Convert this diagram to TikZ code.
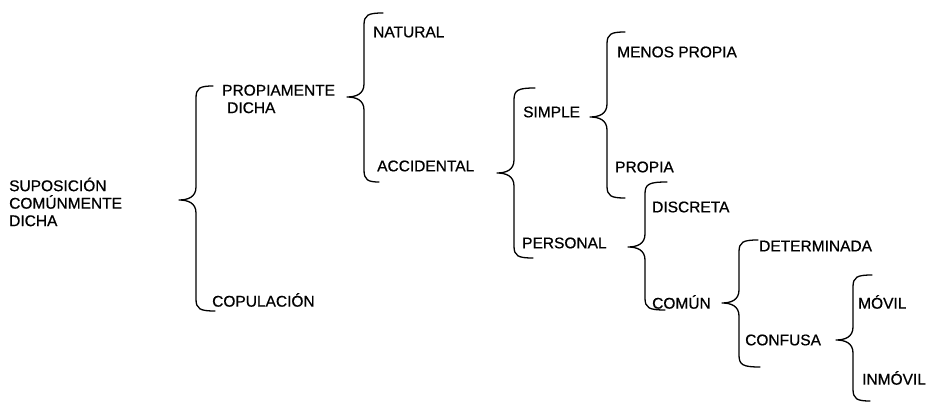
\documentclass[tikz,border=0pt]{standalone}
\usepackage{fontspec}
\setmainfont{Liberation Sans}
\newfontfamily\lblfont{Liberation Sans}[FakeBold=0.7]
\usetikzlibrary{calc}

\tikzset{
  lbl/.style={anchor=west, inner sep=0pt, align=left,
    font=\lblfont\fontsize{15.5}{17.5}\selectfont},
  % half of a curly brace, drawn from its middle tip to one curled end
  brace/.style={line width=1.3pt, line cap=round, line join=round,
    to path={let \p1=(\tikztostart), \p2=(\tikztotarget),
      \n1={sign(\y2-\y1)} in
      (\p1) .. controls (\x1+9pt,\y1) and (\x1+17pt,\y1+3pt*\n1)
      .. (\x1+17pt,\y1+13pt*\n1)
      -- (\x1+17pt,\y2-12pt*\n1)
      .. controls (\x1+17pt,\y2-2pt*\n1) and (\x1+21pt,\y2) .. (\p2)}}
}

\begin{document}
\begin{tikzpicture}[x=1pt,y=-1pt]
\useasboundingbox (0,0) rectangle (930,403);

% terms
\node[lbl] (sup) at (9,202) {SUPOSICIÓN\\COMÚNMENTE\\DICHA};
\node[lbl] (pro) at (222,99) {PROPIAMENTE\\\hspace*{5pt}DICHA};
\node[lbl] (cop) at (212,300) {COPULACIÓN};
\node[lbl] (nat) at (373,32) {NATURAL};
\node[lbl] (acc) at (377,166) {ACCIDENTAL};
\node[lbl] (sim) at (523,112) {SIMPLE};
\node[lbl] (per) at (522,243) {PERSONAL};
\node[lbl] (men) at (617,52) {MENOS PROPIA};
\node[lbl] (prp) at (615,167) {PROPIA};
\node[lbl] (dis) at (652,207) {DISCRETA};
\node[lbl] (com) at (652,302) {COMÚN};
\node[lbl] (det) at (759,246) {DETERMINADA};
\node[lbl] (cnf) at (745,340) {CONFUSA};
\node[lbl] (mov) at (858,302) {MÓVIL};
\node[lbl] (inm) at (862,378) {INMÓVIL};

% brace tips and curled ends
\coordinate (b1) at (179,200); \coordinate (b1t) at (213,86);  \coordinate (b1b) at (215,311);
\coordinate (b2) at (347,97);  \coordinate (b2t) at (383,13);  \coordinate (b2b) at (379,182);
\coordinate (b3) at (497,173); \coordinate (b3t) at (535,88);  \coordinate (b3b) at (533,258);
\coordinate (b4) at (590,117); \coordinate (b4t) at (625,32);  \coordinate (b4b) at (625,198);
\coordinate (b5) at (628,247); \coordinate (b5t) at (667,182); \coordinate (b5b) at (665,310);
\coordinate (b6) at (722,303); \coordinate (b6t) at (758,240); \coordinate (b6b) at (760,367);
\coordinate (b7) at (836,340); \coordinate (b7t) at (872,275); \coordinate (b7b) at (870,401);

% braces
\draw[brace] (b1) to (b1t) (b1) to (b1b);
\draw[brace] (b2) to (b2t) (b2) to (b2b);
\draw[brace] (b3) to (b3t) (b3) to (b3b);
\draw[brace] (b4) to (b4t) (b4) to (b4b);
\draw[brace] (b5) to (b5t) (b5) to (b5b);
\draw[brace] (b6) to (b6t) (b6) to (b6b);
\draw[brace] (b7) to (b7t) (b7) to (b7b);
\end{tikzpicture}
\end{document}
